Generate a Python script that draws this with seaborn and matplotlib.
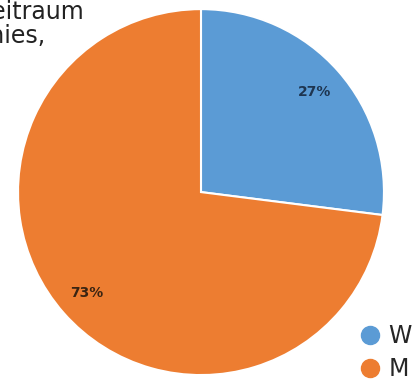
import matplotlib
matplotlib.use("Agg")
import matplotlib.pyplot as plt
import seaborn as sns
from matplotlib.lines import Line2D

# ------------------ DATOS ------------------
categorias = ["W", "M"]
anteile = [27, 73]
farben = ["#5B9BD5", "#ED7D31"]
titel_zeilen = ["Zeitraum", "Companies,"]

# ------------------ GRAFICO ------------------
sns.set_theme(style="white")
plt.rcParams['font.family'] = ['DejaVu Sans']

fig = plt.figure(figsize=(4.17, 3.8), dpi=100)
ax = fig.add_axes([0.043, 0.013, 0.878, 0.963])

wedges, texts, autotexts = ax.pie(
    anteile, colors=farben, startangle=90, counterclock=False,
    autopct="%d%%", pctdistance=0.83,
    wedgeprops=dict(edgecolor="white", linewidth=1.5),
    textprops=dict(fontsize=10, fontweight="bold", color="#2b2b2b"),
)
autotexts[0].set_color("#1e3550")
autotexts[1].set_color("#3a2412")
ax.set_aspect("equal")
ax.set_xlim(-1, 1)
ax.set_ylim(-1, 1)
ax.axis("off")

# titel (abgeschnitten am linken Rand)
fig.text(84 / 417, 1 - 19 / 380, titel_zeilen[0], ha="right", va="baseline",
         fontsize=17, color="#222222")
fig.text(46 / 417, 1 - 43 / 380, titel_zeilen[1], ha="right", va="baseline",
         fontsize=17, color="#222222")

# legende
handles = [Line2D([0], [0], marker="o", linestyle="", markersize=13,
                  markerfacecolor=c, markeredgecolor=c) for c in farben]
fig.legend(handles, categorias, loc="upper left",
           bbox_to_anchor=(358 / 417, 1 - 324 / 380), frameon=False,
           fontsize=17, handletextpad=0.3, labelspacing=0.4,
           borderaxespad=0, borderpad=0, handlelength=1.0)

fig.savefig("out.png", dpi=100)
